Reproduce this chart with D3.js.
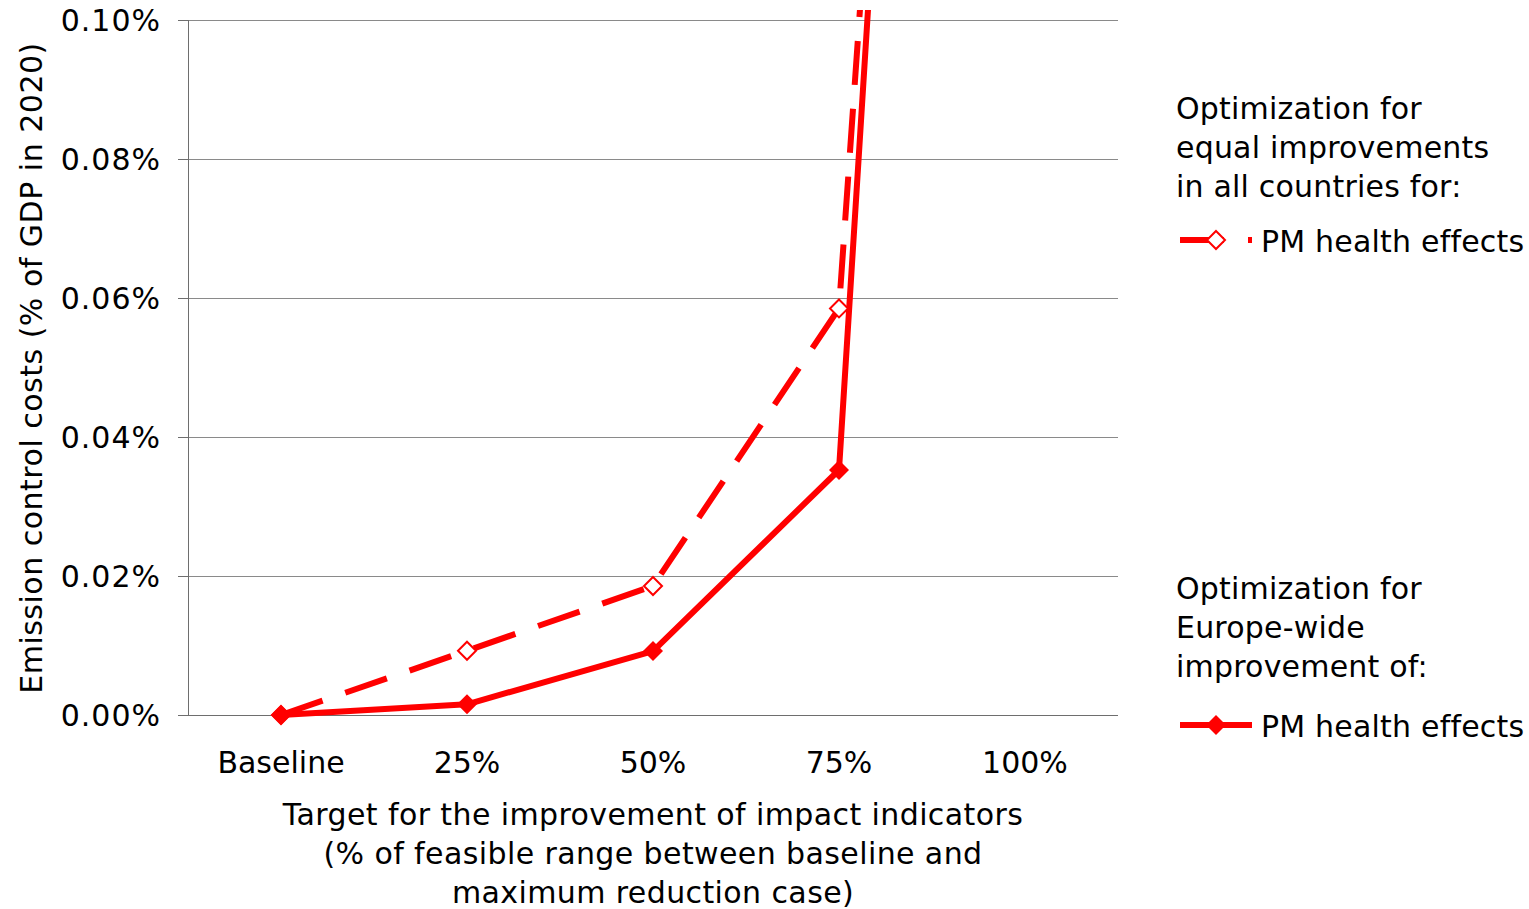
<!DOCTYPE html>
<html>
<head>
<meta charset="utf-8">
<script src="https://cdn.jsdelivr.net/npm/d3@7/dist/d3.min.js"></script>
<style>
  body { margin: 0; background: #fff; }
  svg { display: block; }
  text { font-family: "DejaVu Sans", Verdana, sans-serif; fill: #000; }
</style>
</head>
<body>
<svg id="chart" width="1529" height="909"></svg>
<script>
// ---- Data ----
const categories = ["Baseline", "25%", "50%", "75%", "100%"];
const equalImprovements = [0, 0.00925, 0.01856, 0.0585, 0.44];   // dashed, hollow diamonds
const europeWide = [0, 0.00154, 0.0092, 0.03525, 0.46];          // solid, filled diamonds
const yTicks = [0, 0.02, 0.04, 0.06, 0.08, 0.10];
const yAxisTitle = "Emission control costs (% of GDP in 2020)";
const xAxisTitle = ["Target for the improvement of impact indicators",
                    "(% of feasible range between baseline and",
                    "maximum reduction case)"];
const legendGroup1 = ["Optimization for", "equal improvements", "in all countries for:"];
const legendGroup2 = ["Optimization for", "Europe-wide", "improvement of:"];
const seriesName = "PM health effects";

// ---- Layout ----
const svg = d3.select("#chart");
const plot = { left: 188, right: 1118, top: 20, bottom: 715 };
const FS = 30;
const RED = "#ff0000";
const FONT = '"DejaVu Sans", Verdana, sans-serif';

const x = d3.scaleBand().domain(categories).range([plot.left, plot.right]).padding(0);
const y = d3.scaleLinear().domain([0, 0.10]).range([plot.bottom, plot.top]);
const cx = c => x(c) + x.bandwidth() / 2;

// gridlines
svg.append("g").selectAll("line").data(yTicks.filter(d => d > 0)).join("line")
  .attr("x1", plot.left - 10).attr("x2", plot.right)
  .attr("y1", d => y(d)).attr("y2", d => y(d))
  .attr("stroke", "#8a8a8a").attr("stroke-width", 1).attr("shape-rendering", "crispEdges");

// y axis
const yAxis = d3.axisLeft(y).tickValues(yTicks).tickSize(10).tickPadding(17)
  .tickFormat(d => d.toFixed(2) + "%");
const gy = svg.append("g").attr("transform", `translate(${plot.left},0)`).call(yAxis);
gy.select(".domain").attr("stroke", "#6e6e6e").attr("d", `M0,${plot.top}V${plot.bottom}`)
  .attr("shape-rendering", "crispEdges");
gy.selectAll(".tick line").attr("stroke", "#6e6e6e").attr("shape-rendering", "crispEdges");
gy.selectAll(".tick text").style("font-size", FS + "px").style("font-family", FONT)
  .style("letter-spacing", "1px").attr("dy", "0.36em");

// x axis
const xAxis = d3.axisBottom(x).tickSize(0).tickPadding(0);
const gx = svg.append("g").attr("transform", `translate(0,${plot.bottom})`).call(xAxis);
gx.select(".domain").attr("stroke", "#6e6e6e").attr("d", `M${plot.left - 10},0H${plot.right}`)
  .attr("shape-rendering", "crispEdges");
gx.selectAll(".tick text").style("font-size", FS + "px").style("font-family", FONT)
  .attr("dy", null).attr("y", 58);

// axis titles
svg.append("text")
  .attr("transform", `translate(42,368) rotate(-90)`)
  .attr("text-anchor", "middle").style("font-size", FS + "px")
  .style("letter-spacing", "0.5px").text(yAxisTitle);
svg.append("g").selectAll("text").data(xAxisTitle).join("text")
  .attr("x", (plot.left + plot.right) / 2).attr("y", (d, i) => 825 + i * 39)
  .attr("text-anchor", "middle").style("font-size", FS + "px")
  .style("letter-spacing", "0.4px").text(d => d);

// clip for lines
svg.append("clipPath").attr("id", "clip").append("rect")
  .attr("x", plot.left).attr("y", 10).attr("width", plot.right - plot.left).attr("height", 800);

const line = d3.line().x((d, i) => cx(categories[i])).y(d => y(d));
const diamond = r => `M0,${-r}L${r},0L0,${r}L${-r},0Z`;

// dashed series
svg.append("path").datum(equalImprovements).attr("clip-path", "url(#clip)")
  .attr("d", line).attr("fill", "none").attr("stroke", RED).attr("stroke-width", 6)
  .attr("stroke-dasharray", "44,24").attr("stroke-linejoin", "round");
// solid series
svg.append("path").datum(europeWide).attr("clip-path", "url(#clip)")
  .attr("d", line).attr("fill", "none").attr("stroke", RED).attr("stroke-width", 6)
  .attr("stroke-linejoin", "round");

// markers (only for points inside plot)
svg.append("g").selectAll("path").data(equalImprovements.map((v, i) => [categories[i], v]).filter(d => d[1] <= 0.1))
  .join("path").attr("transform", d => `translate(${cx(d[0])},${y(d[1])})`)
  .attr("d", diamond(9)).attr("fill", "#fff").attr("stroke", RED).attr("stroke-width", 2);
svg.append("g").selectAll("path").data(europeWide.map((v, i) => [categories[i], v]).filter(d => d[1] <= 0.1))
  .join("path").attr("transform", d => `translate(${cx(d[0])},${y(d[1])})`)
  .attr("d", diamond(10)).attr("fill", RED);

// legend
function legendBlock(titleLines, titleY, keyY, dashed) {
  svg.append("g").selectAll("text").data(titleLines).join("text")
    .attr("x", 1176).attr("y", (d, i) => titleY + i * 39)
    .style("font-size", FS + "px").style("letter-spacing", "0.2px").text(d => d);
  svg.append("line").attr("x1", 1180).attr("x2", 1252).attr("y1", keyY).attr("y2", keyY)
    .attr("stroke", RED).attr("stroke-width", 6)
    .attr("stroke-dasharray", dashed ? "44,24" : null);
  svg.append("path").attr("transform", `translate(1216,${keyY})`)
    .attr("d", dashed ? diamond(9) : diamond(10))
    .attr("fill", dashed ? "#fff" : RED).attr("stroke", dashed ? RED : "none").attr("stroke-width", 2);
  svg.append("text").attr("x", 1261).attr("y", keyY + 11.5)
    .style("font-size", FS + "px").style("letter-spacing", "0.2px").text(seriesName);
}
legendBlock(legendGroup1, 118.5, 240, true);
legendBlock(legendGroup2, 599, 725, false);
</script>
</body>
</html>
